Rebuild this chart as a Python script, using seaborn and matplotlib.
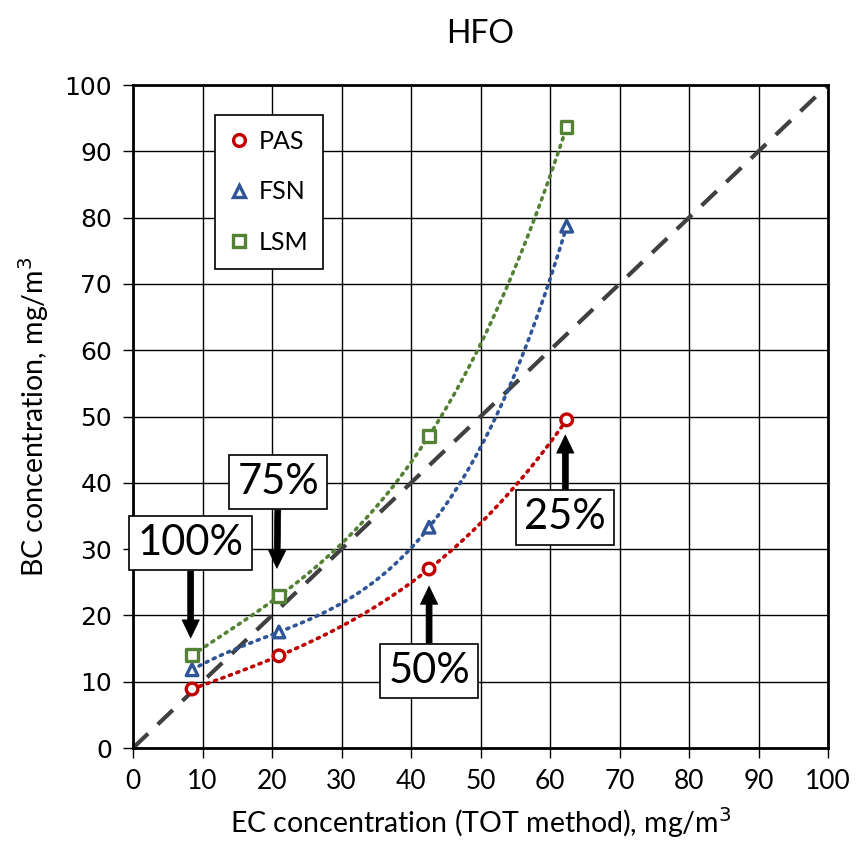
import numpy as np
import pandas as pd
import matplotlib
matplotlib.use("Agg")
import matplotlib.pyplot as plt
import seaborn as sns
from matplotlib.lines import Line2D

# Measured data (EC by TOT method vs. BC by instrument)
ec_tot = [8.5, 21.0, 42.6, 62.4]
pas = [8.9, 13.9, 27.0, 49.5]
fsn = [11.8, 17.5, 33.3, 78.7]
lsm = [14.0, 22.9, 47.1, 93.7]
loads = ["100%", "75%", "50%", "25%"]
series_names = ["PAS", "FSN", "LSM"]
ticks = list(range(0, 101, 10))

colors = {"PAS": "#C00000", "FSN": "#2F5597", "LSM": "#548235"}
markers = {"PAS": "o", "FSN": "^", "LSM": "s"}

df = pd.DataFrame({
    "EC": ec_tot * 3,
    "BC": pas + fsn + lsm,
    "Instrument": [n for n in series_names for _ in ec_tot],
})

sns.set_theme(style="white")
plt.rcParams["font.family"] = ["Lato", "DejaVu Sans"]
plt.rcParams["text.color"] = "black"
plt.rcParams["axes.labelcolor"] = "black"
plt.rcParams["xtick.color"] = "black"
plt.rcParams["ytick.color"] = "black"

fig = plt.figure(figsize=(8.56, 8.51), dpi=100)
ax = fig.add_axes([133 / 856, 1 - 748 / 851, 695 / 856, 663 / 851])

# 1:1 line
ax.plot([0, 100], [0, 100], color="#404040", lw=3, dashes=(5, 3.2), zorder=2)

# Smooth curves through each instrument's points
for name in series_names:
    sub = df[df["Instrument"] == name]
    sns.regplot(data=sub, x="EC", y="BC", order=3, ci=None, scatter=False,
                truncate=True, ax=ax,
                line_kws=dict(color=colors[name], lw=2.6, ls=(0, (0.6, 1.6)),
                              dash_capstyle="round", zorder=3))

sns.scatterplot(data=df, x="EC", y="BC", hue="Instrument", style="Instrument",
                palette=colors, markers=markers, s=70, linewidth=2.4,
                legend=False, ax=ax, zorder=4)
# open markers with coloured edges
for coll in ax.collections:
    fc = coll.get_facecolors()
    if len(fc):
        coll.set_edgecolors(fc)
        coll.set_facecolors("white")

ax.set_xlim(0, 100)
ax.set_ylim(0, 100)
ax.set_xticks(ticks)
ax.set_yticks(ticks)
ax.grid(True, color="black", lw=1.0)
ax.set_axisbelow(True)
for sp in ax.spines.values():
    sp.set_color("black")
    sp.set_linewidth(2.0)
ax.tick_params(axis="both", direction="out", length=7, width=1.0, color="black",
               bottom=True, left=True)
ax.tick_params(axis="x", labelsize=19, pad=8)
ax.tick_params(axis="y", labelsize=18, pad=8)
for lab in ax.get_yticklabels():
    lab.set_family("DejaVu Sans")
ax.set_xlabel("EC concentration (TOT method), mg/m$^3$", fontsize=20.5, labelpad=8)
ax.set_ylabel("BC concentration, mg/m$^3$", fontsize=20.5, labelpad=10)
ax.set_title("HFO", fontsize=23, pad=30)

# Legend
handles = [Line2D([], [], ls="none", marker=markers[n], mec=colors[n], mfc="white",
                  mew=2.4, ms=8.5) for n in series_names]
leg = ax.legend(handles, series_names, loc="upper left",
                bbox_to_anchor=(0.118, 0.955), fontsize=18, frameon=True,
                fancybox=False, edgecolor="black", framealpha=1,
                labelspacing=1.1, handletextpad=0.4, borderpad=0.6,
                handlelength=0.75, borderaxespad=0)
leg.get_frame().set_linewidth(1.2)

# Load-point callouts
box = dict(boxstyle="square,pad=0.2", fc="white", ec="black", lw=1.2)
arrow = dict(arrowstyle="simple,head_width=12.5,head_length=13,tail_width=4.3",
             mutation_scale=1, fc="black", ec="black", lw=0.5,
             shrinkA=0, shrinkB=0)
callouts = [
    (loads[0], (8.3, 16.6), (8.3, 30.9)),
    (loads[1], (20.7, 27.1), (20.9, 40.1)),
    (loads[2], (42.6, 24.4), (42.6, 11.6)),
    (loads[3], (62.2, 47.2), (62.2, 34.8)),
]
for text, tip, pos in callouts:
    ax.annotate(text, xy=tip, xytext=pos, ha="center", va="center",
                fontsize=30, bbox=box, arrowprops=arrow, zorder=6)

fig.savefig("out.png", dpi=100)
